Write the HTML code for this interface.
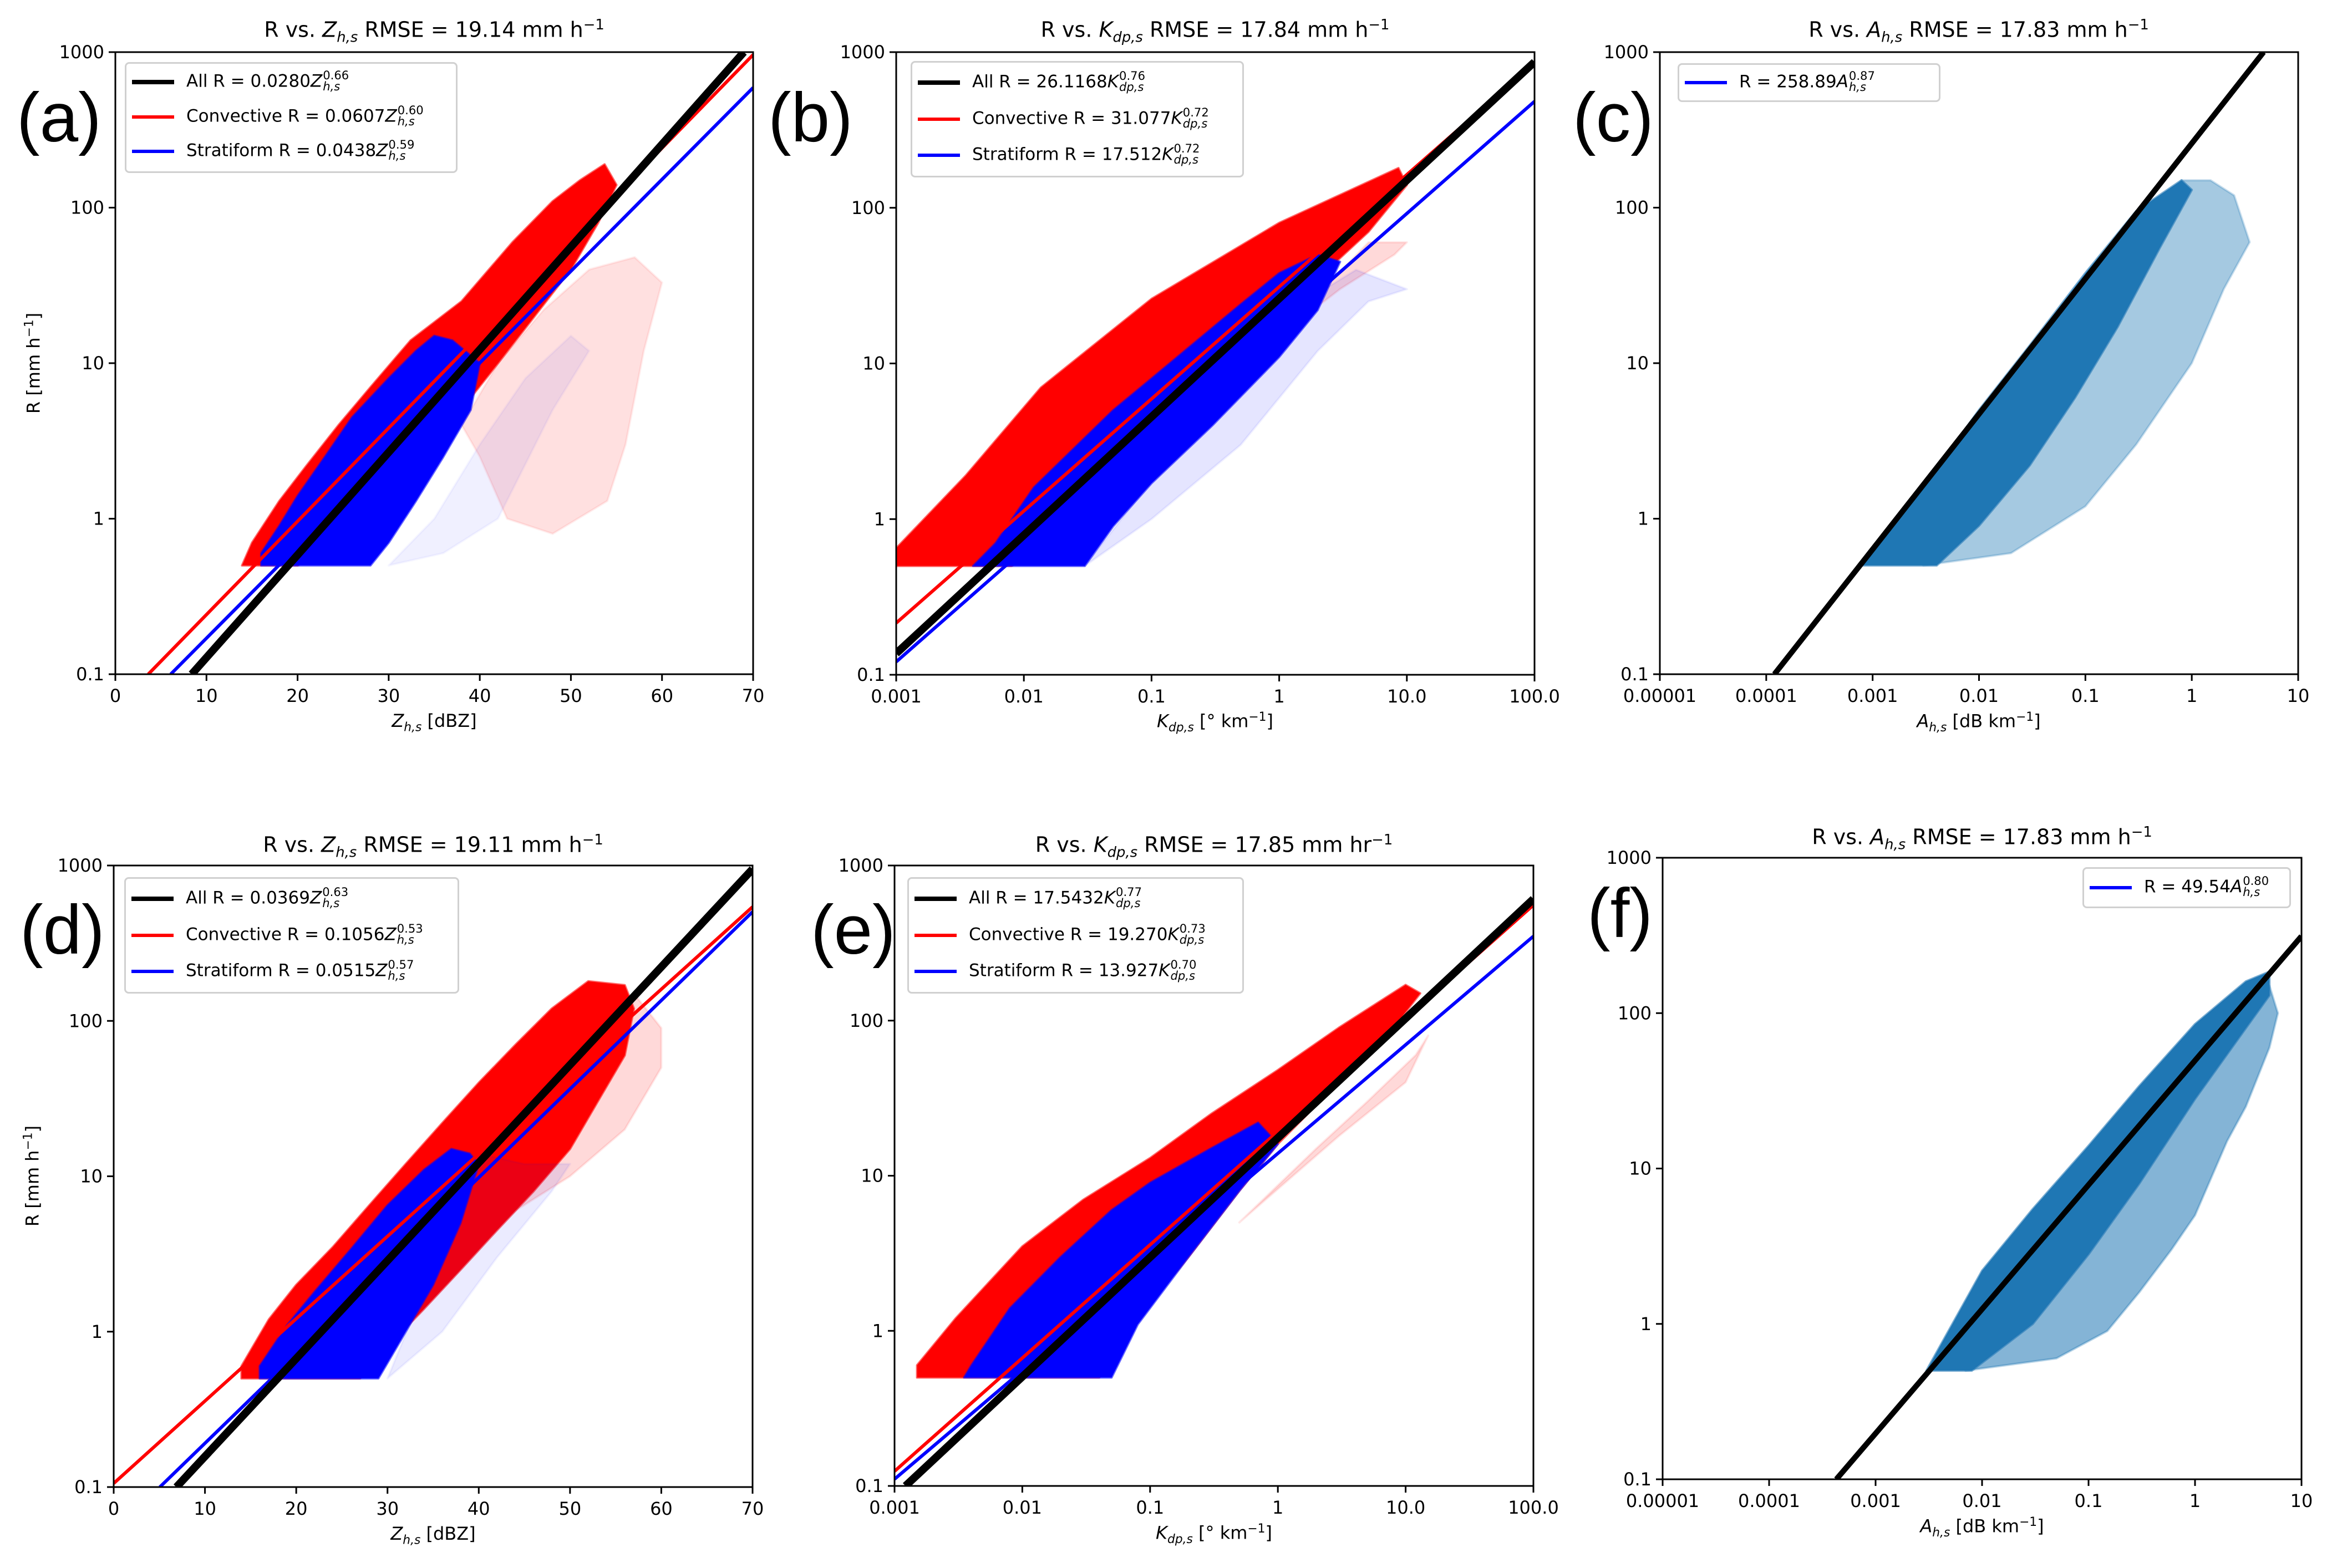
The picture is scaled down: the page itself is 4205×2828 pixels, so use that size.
<!DOCTYPE html>
<html><head><meta charset="utf-8">
<style>
html,body{margin:0;padding:0;background:#fff;width:4205px;height:2828px;overflow:hidden;position:relative;}
#wrap{position:absolute;left:0;top:0;width:4205px;height:2828px;overflow:hidden;font-family:"DejaVu Sans","Liberation Sans",sans-serif;color:#000;}
svg{position:absolute;left:0;top:0;display:block;}
.t{position:absolute;white-space:nowrap;font-size:38px;transform:translateX(-50%);}
.xl{position:absolute;white-space:nowrap;font-size:32px;transform:translateX(-50%);}
.yl{position:absolute;white-space:nowrap;font-size:32px;transform:translate(-50%,-50%) rotate(-90deg);}
.pl{position:absolute;font-family:"Liberation Sans",sans-serif;font-size:125px;line-height:1;}
.lg{position:absolute;border:3px solid #d0d0d0;border-radius:8px;background:#fff;box-sizing:border-box;font-size:31px;}
.row{position:absolute;left:0;height:60px;display:flex;align-items:center;white-space:nowrap;}
.smp{position:absolute;left:10px;width:76px;}
.lt{position:absolute;left:108px;white-space:nowrap;}
.ss{display:inline-flex;flex-direction:column;vertical-align:middle;font-size:0.68em;line-height:0.95;margin-left:1px;position:relative;top:-2px;}
i{font-style:italic;}
sup.m{font-size:0.68em;}
</style></head>
<body>
<div id="wrap">
<svg id="fig" width="4205" height="2828" xmlns="http://www.w3.org/2000/svg"></svg>

<div class="t" style="left:783px;top:30px">R vs. <i>Z</i><sub style="font-size:0.68em"><i>h,s</i></sub> RMSE = 19.14 mm h<sup class="m">−1</sup></div>
<div class="t" style="left:2191px;top:30px">R vs. <i>K</i><sub style="font-size:0.68em"><i>dp,s</i></sub> RMSE = 17.84 mm h<sup class="m">−1</sup></div>
<div class="t" style="left:3568px;top:30px">R vs. <i>A</i><sub style="font-size:0.68em"><i>h,s</i></sub> RMSE = 17.83 mm h<sup class="m">−1</sup></div>
<div class="t" style="left:781px;top:1500px">R vs. <i>Z</i><sub style="font-size:0.68em"><i>h,s</i></sub> RMSE = 19.11 mm h<sup class="m">−1</sup></div>
<div class="t" style="left:2189px;top:1500px">R vs. <i>K</i><sub style="font-size:0.68em"><i>dp,s</i></sub> RMSE = 17.85 mm hr<sup class="m">−1</sup></div>
<div class="t" style="left:3574px;top:1486px">R vs. <i>A</i><sub style="font-size:0.68em"><i>h,s</i></sub> RMSE = 17.83 mm h<sup class="m">−1</sup></div>

<div class="xl" style="left:783px;top:1281px"><i>Z</i><sub style="font-size:0.68em"><i>h,s</i></sub> [dBZ]</div>
<div class="xl" style="left:2191px;top:1281px"><i>K</i><sub style="font-size:0.68em"><i>dp,s</i></sub> [° km<sup class="m">−1</sup>]</div>
<div class="xl" style="left:3568px;top:1281px"><i>A</i><sub style="font-size:0.68em"><i>h,s</i></sub> [dB km<sup class="m">−1</sup>]</div>
<div class="xl" style="left:781px;top:2747px"><i>Z</i><sub style="font-size:0.68em"><i>h,s</i></sub> [dBZ]</div>
<div class="xl" style="left:2189px;top:2745px"><i>K</i><sub style="font-size:0.68em"><i>dp,s</i></sub> [° km<sup class="m">−1</sup>]</div>
<div class="xl" style="left:3574px;top:2733px"><i>A</i><sub style="font-size:0.68em"><i>h,s</i></sub> [dB km<sup class="m">−1</sup>]</div>

<div class="yl" style="left:60px;top:655px">R [mm h<sup class="m">−1</sup>]</div>
<div class="yl" style="left:58px;top:2121px">R [mm h<sup class="m">−1</sup>]</div>

<div class="pl" style="left:30px;top:150px">(a)</div>
<div class="pl" style="left:1385px;top:150px">(b)</div>
<div class="pl" style="left:2836px;top:150px">(c)</div>
<div class="pl" style="left:36px;top:1615px">(d)</div>
<div class="pl" style="left:1462px;top:1615px">(e)</div>
<div class="pl" style="left:2862px;top:1585px">(f)</div>

<div class="lg" style="left:225px;top:112px;width:600px;height:200px">
 <div class="row" style="top:3px;width:100%"><div class="smp" style="height:8px;background:#000"></div><span class="lt">All R = 0.0280<i>Z</i><span class="ss"><span>0.66</span><i>h,s</i></span></span></div>
 <div class="row" style="top:66px;width:100%"><div class="smp" style="height:6px;background:#f00"></div><span class="lt">Convective R = 0.0607<i>Z</i><span class="ss"><span>0.60</span><i>h,s</i></span></span></div>
 <div class="row" style="top:128px;width:100%"><div class="smp" style="height:6px;background:#00f"></div><span class="lt">Stratiform R = 0.0438<i>Z</i><span class="ss"><span>0.59</span><i>h,s</i></span></span></div>
</div>
<div class="lg" style="left:1642px;top:110px;width:601px;height:210px">
 <div class="row" style="top:6px;width:100%"><div class="smp" style="height:8px;background:#000"></div><span class="lt">All R = 26.1168<i>K</i><span class="ss"><span>0.76</span><i>dp,s</i></span></span></div>
 <div class="row" style="top:72px;width:100%"><div class="smp" style="height:6px;background:#f00"></div><span class="lt">Convective R = 31.077<i>K</i><span class="ss"><span>0.72</span><i>dp,s</i></span></span></div>
 <div class="row" style="top:137px;width:100%"><div class="smp" style="height:6px;background:#00f"></div><span class="lt">Stratiform R = 17.512<i>K</i><span class="ss"><span>0.72</span><i>dp,s</i></span></span></div>
</div>
<div class="lg" style="left:3025px;top:114px;width:474px;height:70px">
 <div class="row" style="top:2px;width:100%"><div class="smp" style="height:6px;background:#00f"></div><span class="lt">R = 258.89<i>A</i><span class="ss"><span>0.87</span><i>h,s</i></span></span></div>
</div>
<div class="lg" style="left:224px;top:1582px;width:604px;height:210px">
 <div class="row" style="top:6px;width:100%"><div class="smp" style="height:8px;background:#000"></div><span class="lt">All R = 0.0369<i>Z</i><span class="ss"><span>0.63</span><i>h,s</i></span></span></div>
 <div class="row" style="top:72px;width:100%"><div class="smp" style="height:6px;background:#f00"></div><span class="lt">Convective R = 0.1056<i>Z</i><span class="ss"><span>0.53</span><i>h,s</i></span></span></div>
 <div class="row" style="top:137px;width:100%"><div class="smp" style="height:6px;background:#00f"></div><span class="lt">Stratiform R = 0.0515<i>Z</i><span class="ss"><span>0.57</span><i>h,s</i></span></span></div>
</div>
<div class="lg" style="left:1636px;top:1582px;width:607px;height:210px">
 <div class="row" style="top:6px;width:100%"><div class="smp" style="height:8px;background:#000"></div><span class="lt">All R = 17.5432<i>K</i><span class="ss"><span>0.77</span><i>dp,s</i></span></span></div>
 <div class="row" style="top:72px;width:100%"><div class="smp" style="height:6px;background:#f00"></div><span class="lt">Convective R = 19.270<i>K</i><span class="ss"><span>0.73</span><i>dp,s</i></span></span></div>
 <div class="row" style="top:137px;width:100%"><div class="smp" style="height:6px;background:#00f"></div><span class="lt">Stratiform R = 13.927<i>K</i><span class="ss"><span>0.70</span><i>dp,s</i></span></span></div>
</div>
<div class="lg" style="left:3755px;top:1564px;width:376px;height:74px">
 <div class="row" style="top:4px;width:100%"><div class="smp" style="height:6px;background:#00f"></div><span class="lt">R = 49.54<i>A</i><span class="ss"><span>0.80</span><i>h,s</i></span></span></div>
</div>
</div>

<script>
const yTickVals = [0.1, 1, 10, 100, 1000];
const yTickLabels = ['0.1', '1', '10', '100', '1000'];
const zTickVals = [0, 10, 20, 30, 40, 50, 60, 70];
const zTickLabels = ['0', '10', '20', '30', '40', '50', '60', '70'];
const kTickVals = [0.001, 0.01, 0.1, 1, 10, 100];
const kTickLabels = ['0.001', '0.01', '0.1', '1', '10.0', '100.0'];
const aTickVals = [0.00001, 0.0001, 0.001, 0.01, 0.1, 1, 10];
const aTickLabels = ['0.00001', '0.0001', '0.001', '0.01', '0.1', '1', '10'];

const fitCoefA = [0.0280, 0.0607, 0.0438];
const fitExpA = [0.66, 0.60, 0.59];
const fitCoefB = [26.1168, 31.077, 17.512];
const fitExpB = [0.76, 0.72, 0.72];
const fitCoefC = [258.89];
const fitExpC = [0.87];
const fitCoefD = [0.0369, 0.1056, 0.0515];
const fitExpD = [0.63, 0.53, 0.57];
const fitCoefE = [17.5432, 19.270, 13.927];
const fitExpE = [0.77, 0.73, 0.70];
const fitCoefF = [49.54];
const fitExpF = [0.80];

const cloudAConvDense = [[13.9,0.5],[15,0.7],[18,1.3],[21,2.2],[24.5,4],[28,7],[32.4,14],[38,25],[43.6,60],[48,110],[51,150],[53.7,190],[55,140],[53,80],[50,40],[46,20],[42,10],[39,6],[36,3.5],[32,2],[28,1.1],[24,0.7],[20,0.5]];
const cloudAConvSparse = [[38,4],[42,10],[47,22],[52,40],[57,48],[60,33],[58,12],[56,3],[54,1.3],[48,0.8],[43,1],[40,2.5]];
const cloudAStratDense = [[16,0.5],[16,0.6],[18,0.9],[20,1.4],[23,2.5],[26,4.5],[30,8],[33,12],[35,15],[37,14],[40,10],[39,5],[36,2.5],[33,1.3],[30,0.7],[28,0.5]];
const cloudAStratSparse = [[30,0.5],[35,1],[40,3],[45,8],[50,15],[52,12],[48,5],[42,1],[36,0.6]];

const cloudBConvDense = [[0.001,0.5],[0.001,0.65],[0.0035,1.9],[0.0136,7],[0.1,26],[1,80],[8.6,180],[10,140],[5,70],[2,35],[1,22],[0.3,9],[0.1,3.5],[0.03,1.2],[0.012,0.6],[0.008,0.5]];
const cloudBConvSparse = [[1,15],[3,30],[8,50],[10,60],[5,60]];
const cloudBStratDense = [[0.004,0.5],[0.006,0.7],[0.012,1.6],[0.05,5],[0.1,8],[0.5,24],[1,38],[2,50],[3,45],[2,22],[1,11],[0.3,4],[0.1,1.7],[0.05,0.9],[0.03,0.5]];
const cloudBStratSparse = [[0.03,0.5],[0.1,1],[0.5,3],[2,12],[5,25],[10,30],[4,40],[1,20]];

const cloudCDense = [[0.0008,0.5],[0.003,1.6],[0.01,5],[0.03,13],[0.1,38],[0.3,95],[0.8,150],[1,130],[0.5,55],[0.2,17],[0.08,6],[0.03,2.2],[0.01,0.9],[0.004,0.5]];
const cloudCSparse = [[0.003,0.5],[0.02,0.6],[0.1,1.2],[0.3,3],[1,10],[2,30],[3.5,60],[2.5,120],[1.5,150],[0.8,150]];

const cloudDConvDense = [[14,0.5],[14,0.6],[17,1.2],[20,2],[24,3.5],[28,6.5],[32,12],[36,22],[40,40],[44,70],[48,120],[52,180],[56,170],[57,120],[56,60],[53,30],[50,15],[46,8],[42,4.5],[38,2.5],[34,1.4],[30,0.8],[27,0.5]];
const cloudDConvSparse = [[38,3],[44,6],[50,10],[56,20],[60,50],[60,90],[57,150],[52,60],[46,15]];
const cloudDStratDense = [[16,0.5],[16,0.6],[19,1.1],[22,1.8],[26,3.4],[30,6.5],[34,11],[37,15],[39,14],[40,12],[38,5],[35,2],[32,1],[29,0.5]];
const cloudDStratSparse = [[30,0.5],[36,1],[42,3],[48,8],[50,12],[45,12],[40,14]];

const cloudEConvDense = [[0.0015,0.5],[0.0015,0.6],[0.003,1.2],[0.01,3.5],[0.03,7],[0.1,13],[0.3,25],[1,48],[3,90],[10,170],[13,150],[8,90],[3,40],[1,16],[0.5,8],[0.2,3],[0.08,1.2],[0.04,0.5]];
const cloudEConvSparse = [[0.5,5],[2,15],[5,30],[12,60],[15,80],[10,40],[3,18]];
const cloudEStratDense = [[0.0035,0.5],[0.004,0.6],[0.008,1.4],[0.02,3],[0.05,6],[0.1,9],[0.3,15],[0.7,22],[1,16],[0.5,8],[0.2,3],[0.08,1.1],[0.05,0.5]];

const cloudFDense = [[0.003,0.5],[0.01,2.2],[0.03,5.5],[0.1,14],[0.3,34],[1,85],[3,160],[5,185],[5,130],[3,80],[1,28],[0.3,8],[0.1,2.8],[0.03,1],[0.008,0.5]];
const cloudFSparse = [[0.007,0.5],[0.05,0.6],[0.15,0.9],[0.3,1.6],[0.6,3],[1,5],[2,15],[3,25],[5,60],[6,100],[5,150]];

const NS = 'http://www.w3.org/2000/svg';
const svg = document.getElementById('fig');
const panels = {
  a:{box:[208,94,1358,1216], kind:'z', ticks:[zTickVals,zTickLabels], coef:fitCoefA, exp:fitExpA},
  b:{box:[1616,94,2767,1217], kind:'log', dom:[-3,2], ticks:[kTickVals,kTickLabels], coef:fitCoefB, exp:fitExpB},
  c:{box:[2993,94,4144,1216], kind:'log', dom:[-5,1], ticks:[aTickVals,aTickLabels], coef:fitCoefC, exp:fitExpC},
  d:{box:[205,1561,1357,2682], kind:'z', ticks:[zTickVals,zTickLabels], coef:fitCoefD, exp:fitExpD},
  e:{box:[1613,1561,2765,2680], kind:'log', dom:[-3,2], ticks:[kTickVals,kTickLabels], coef:fitCoefE, exp:fitExpE},
  f:{box:[2998,1547,4150,2668], kind:'log', dom:[-5,1], ticks:[aTickVals,aTickLabels], coef:fitCoefF, exp:fitExpF}
};
const clouds = {
  a:[[cloudAConvSparse,'#ff0000',0.12],[cloudAConvDense,'#ff0000',1],[cloudAStratSparse,'#0000ff',0.06],[cloudAStratDense,'#0000ff',1]],
  b:[[cloudBConvSparse,'#ff0000',0.15],[cloudBConvDense,'#ff0000',1],[cloudBStratSparse,'#0000ff',0.1],[cloudBStratDense,'#0000ff',1]],
  c:[[cloudCSparse,'#1f77b4',0.4],[cloudCDense,'#1f77b4',1]],
  d:[[cloudDConvSparse,'#ff0000',0.15],[cloudDConvDense,'#ff0000',1],[cloudDStratSparse,'#0000ff',0.08],[cloudDStratDense,'#0000ff',1]],
  e:[[cloudEConvSparse,'#ff0000',0.15],[cloudEConvDense,'#ff0000',1],[cloudEStratDense,'#0000ff',1]],
  f:[[cloudFSparse,'#1f77b4',0.55],[cloudFDense,'#1f77b4',1]]
};
const fitColors3 = ['#000000','#ff0000','#0000ff'];
const fitWidths3 = [14,6,6];

function xScale(p, v){
  const P = panels[p], [l,t,r,b] = P.box;
  if (P.kind === 'z') return l + v/70*(r-l);
  return l + (Math.log10(v)-P.dom[0])/(P.dom[1]-P.dom[0])*(r-l);
}
function yScale(p, v){
  const [l,t,r,b] = panels[p].box;
  return t + (3 - Math.log10(v))/4*(b-t);
}
function mk(tag, attrs, parent){
  const e = document.createElementNS(NS, tag);
  for (const k in attrs) e.setAttribute(k, attrs[k]);
  (parent||svg).appendChild(e);
  return e;
}
function fitR(p, a, b, x){
  if (panels[p].kind === 'z') return a*Math.pow(10, b*x/10);
  return a*Math.pow(x, b);
}
// Liang-Barsky clip of segment to box
function clipSeg(x1,y1,x2,y2,l,t,r,b){
  let t0=0, t1=1; const dx=x2-x1, dy=y2-y1;
  const pp=[-dx,dx,-dy,dy], qq=[x1-l,r-x1,y1-t,b-y1];
  for (let i=0;i<4;i++){
    if (pp[i]===0){ if (qq[i]<0) return null; }
    else { const u=qq[i]/pp[i]; if (pp[i]<0){ if(u>t1) return null; if(u>t0) t0=u; } else { if(u<t0) return null; if(u<t1) t1=u; } }
  }
  return [x1+t0*dx, y1+t0*dy, x1+t1*dx, y1+t1*dy];
}

const defs = mk('defs', {});
for (const p in panels){
  const P = panels[p], [l,t,r,b] = P.box;
  const cp = mk('clipPath', {id:'clip-'+p}, defs);
  mk('rect', {x:l, y:t, width:r-l, height:b-t}, cp);
  const g = mk('g', {'clip-path':'url(#clip-'+p+')'});
  
  

  clouds[p].forEach(function(c, i){
    const pts = c[0].map(function(d){ return xScale(p,d[0]).toFixed(1)+','+yScale(p,d[1]).toFixed(1); }).join(' ');
    const poly = mk('polygon', {points:pts, fill:c[1], 'fill-opacity':c[2], stroke:c[1], 'stroke-opacity':c[2]*0.6, 'stroke-width':4, 'stroke-linejoin':'round'}, g);
    
    
  });

  let x0, x1;
  if (P.kind === 'z'){ x0 = 0; x1 = 70; } else { x0 = Math.pow(10,P.dom[0]); x1 = Math.pow(10,P.dom[1]); }
  const order = P.coef.length === 3 ? [1,2,0] : [0];
  order.forEach(function(i){
    const s = clipSeg(xScale(p,x0), yScale(p,fitR(p,P.coef[i],P.exp[i],x0)),
                      xScale(p,x1), yScale(p,fitR(p,P.coef[i],P.exp[i],x1)), l, t, r, b);
    if (!s) return;
    const ln = mk('line', {
      x1:s[0], y1:s[1], x2:s[2], y2:s[3],
      stroke: P.coef.length === 3 ? fitColors3[i] : '#000000',
      'stroke-width': P.coef.length === 3 ? fitWidths3[i] : 10
    }, g);
    
    
  });

  const fr = mk('rect', {x:l, y:t, width:r-l, height:b-t, fill:'none', stroke:'#000', 'stroke-width':3});
  
  

  P.ticks[0].forEach(function(v, i){
    const x = xScale(p, v);
    const tk = mk('line', {x1:x, y1:b, x2:x, y2:b+12, stroke:'#000', 'stroke-width':3});
    
    
    const tx = mk('text', {x:x, y:b+50, 'text-anchor':'middle', 'font-size':32, 'font-family':'DejaVu Sans, Liberation Sans, sans-serif'});
    tx.textContent = P.ticks[1][i];
    
    
  });
  yTickVals.forEach(function(v, i){
    const y = yScale(p, v);
    const tk = mk('line', {x1:l-12, y1:y, x2:l, y2:y, stroke:'#000', 'stroke-width':3});
    
    
    const tx = mk('text', {x:l-20, y:y+11, 'text-anchor':'end', 'font-size':32, 'font-family':'DejaVu Sans, Liberation Sans, sans-serif'});
    tx.textContent = yTickLabels[i];
    
    
  });
}
</script>
</body></html>
